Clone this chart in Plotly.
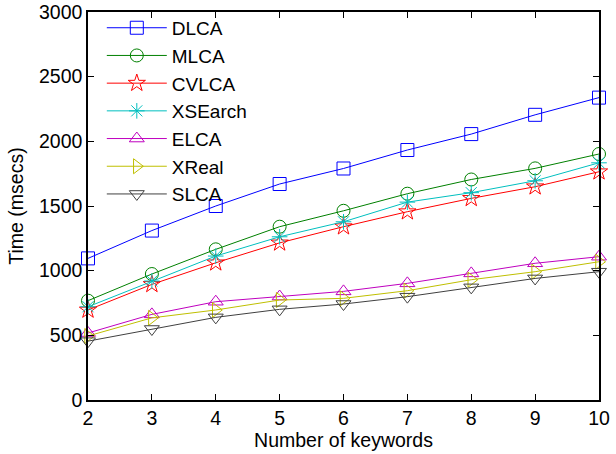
import plotly.graph_objects as go

keywords = [2, 3, 4, 5, 6, 7, 8, 9, 10]

dlca = [1095, 1310, 1500, 1670, 1790, 1933, 2056, 2205, 2338]
mlca = [768, 974, 1165, 1340, 1463, 1595, 1705, 1791, 1902]
cvlca = [696, 894, 1061, 1215, 1340, 1456, 1559, 1649, 1765]
xsearch = [721, 920, 1113, 1262, 1378, 1530, 1603, 1695, 1834]
elca = [518, 662, 760, 800, 840, 902, 979, 1057, 1108]
xreal = [495, 635, 696, 773, 786, 845, 930, 992, 1069]
slca = [455, 549, 639, 701, 742, 799, 871, 940, 992]

series = [
    ("DLCA", dlca, "rgb(0,0,255)", "square-open"),
    ("MLCA", mlca, "rgb(0,128,0)", "circle-open"),
    ("CVLCA", cvlca, "rgb(255,0,0)", "star-open"),
    ("XSEarch", xsearch, "rgb(0,191,191)", "asterisk-open"),
    ("ELCA", elca, "rgb(191,0,191)", "triangle-up-open"),
    ("XReal", xreal, "rgb(191,191,0)", "triangle-right-open"),
    ("SLCA", slca, "rgb(64,64,64)", "triangle-down-open"),
]

fig = go.Figure()
for name, vals, color, sym in series:
    fig.add_trace(go.Scatter(
        x=keywords, y=vals, name=name, mode="lines+markers",
        line=dict(color=color, width=1),
        marker=dict(symbol=sym, size=13, color=color, line=dict(color=color, width=1)),
        cliponaxis=False,
    ))

font = "Liberation Sans, Arial, Helvetica, sans-serif"
tick_size = 19.5
axis_common = dict(
    showline=True, linecolor="black", linewidth=1.5, mirror="ticks",
    ticks="inside", ticklen=6, tickcolor="black", tickwidth=1,
    showgrid=False, zeroline=False, automargin=False,
    tickfont=dict(size=tick_size, color="black", family=font),
)

fig.update_layout(
    width=616, height=454,
    margin=dict(l=88, r=17, t=12, b=54, autoexpand=False),
    paper_bgcolor="white", plot_bgcolor="white",
    font=dict(family=font, color="black"),
    showlegend=True,
    legend=dict(
        x=0.027, y=1.008, xanchor="left", yanchor="top",
        bgcolor="rgba(255,255,255,0)", borderwidth=0,
        font=dict(size=19, family=font, color="black"),
        tracegroupgap=0, itemwidth=60,
    ),
    xaxis=dict(range=[2, 10], tickvals=keywords, **axis_common,
               title=dict(text="Number of keywords", font=dict(size=tick_size, family=font), standoff=4)),
    yaxis=dict(range=[0, 3000], tickvals=[0, 500, 1000, 1500, 2000, 2500, 3000], **axis_common,
               title=dict(text="Time (msecs)", font=dict(size=tick_size, family=font), standoff=10)),
)

fig.write_html("out.html")
